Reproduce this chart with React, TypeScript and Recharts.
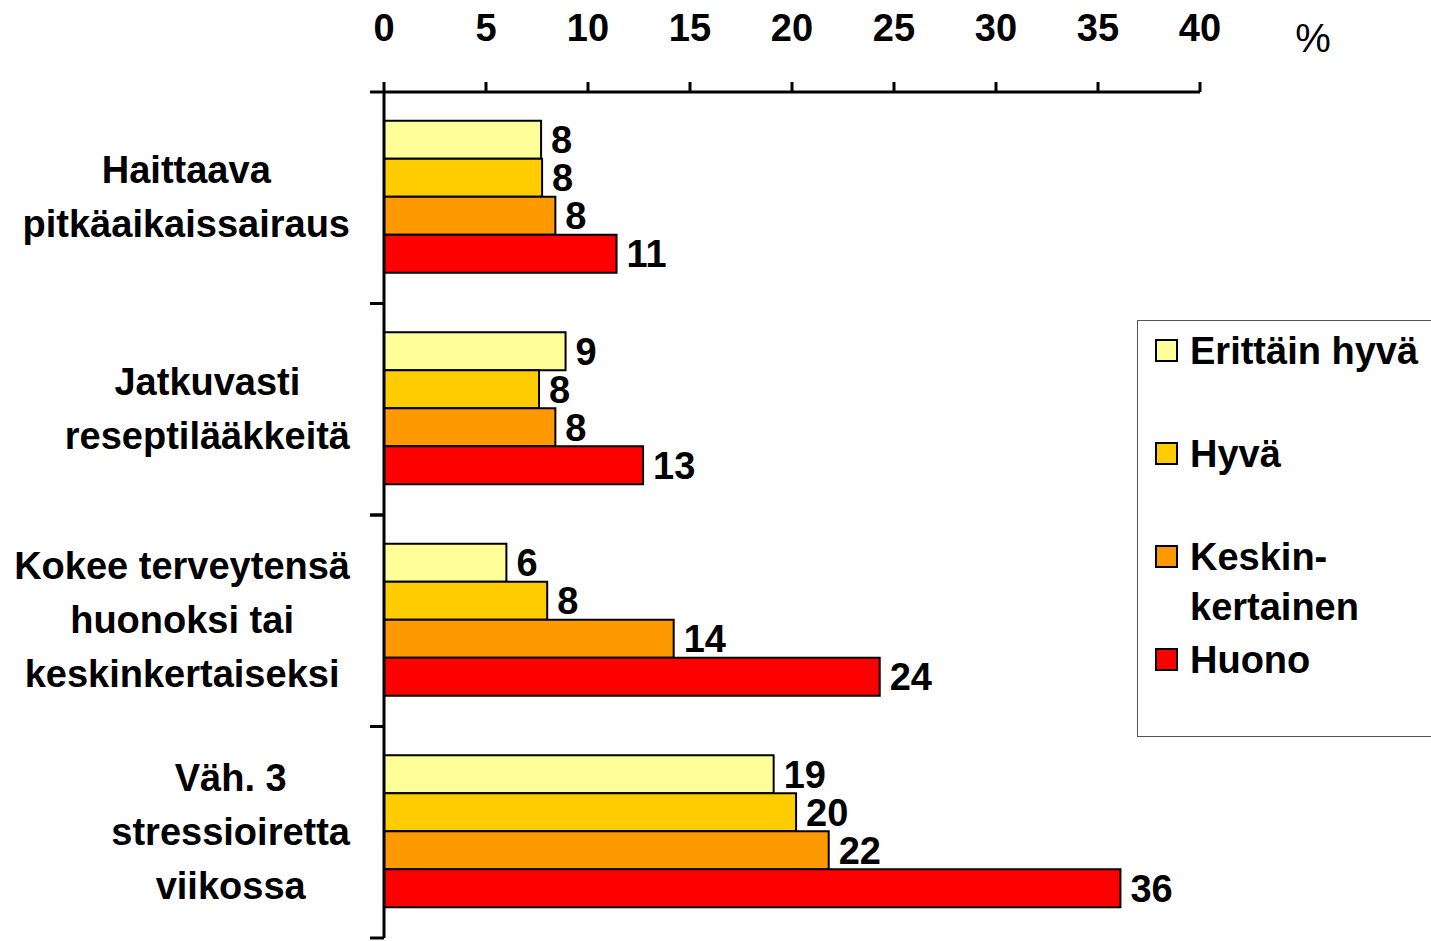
import React from "react";
import { BarChart, Bar, XAxis, YAxis, LabelList } from "recharts";

// categories (two or three lines each, as on the slide)
const categories = [
  "Haittaava pitkäaikaissairaus",
  "Jatkuvasti reseptilääkkeitä",
  "Kokee terveytensä huonoksi tai keskinkertaiseksi",
  "Väh. 3 stressioiretta viikossa",
];
const categoryLines = [
  ["Haittaava", "pitkäaikaissairaus"],
  ["Jatkuvasti", "reseptilääkkeitä"],
  ["Kokee terveytensä", "huonoksi tai", "keskinkertaiseksi"],
  ["Väh. 3", "stressioiretta", "viikossa"],
];

// self-rated health groups
const seriesNames = ["Erittäin hyvä", "Hyvä", "Keskinkertainen", "Huono"];
const legendLines = [["Erittäin hyvä"], ["Hyvä"], ["Keskin-", "kertainen"], ["Huono"]];
const seriesColors = ["#FFFF99", "#FFCC00", "#FF9900", "#FF0000"];

// % values
const erittainHyva = [7.7, 8.9, 6.0, 19.1];
const hyva = [7.75, 7.6, 8.0, 20.2];
const keskinkertainen = [8.4, 8.4, 14.2, 21.8];
const huono = [11.4, 12.7, 24.3, 36.1];

const xTicks = [0, 5, 10, 15, 20, 25, 30, 35, 40];

const W = 1431;
const H = 941;
const AXIS_X = 384;
const FONT = '"Liberation Sans", Arial, sans-serif';

const data = categories.map((name, i) => ({
  name,
  s0: erittainHyva[i],
  s1: hyva[i],
  s2: keskinkertainen[i],
  s3: huono[i],
}));

let measureCtx: CanvasRenderingContext2D | null = null;
function textWidth(s: string) {
  if (!measureCtx) measureCtx = document.createElement("canvas").getContext("2d");
  if (!measureCtx) return s.length * 20;
  measureCtx.font = `bold 38px ${FONT}`;
  return measureCtx.measureText(s).width;
}

function CategoryTick(props: any) {
  const { y, payload } = props;
  const idx = categories.indexOf(payload.value);
  const lines = categoryLines[idx] ?? [payload.value];
  const half = payload.offset || 105.75;
  const maxW = Math.max(...lines.map(textWidth));
  const cx = AXIS_X - 34 - maxW / 2;
  const n = lines.length;
  return (
    <g>
      <line x1={AXIS_X - 14} x2={AXIS_X} y1={y - half} y2={y - half} stroke="#000" strokeWidth={3} />
      <line x1={AXIS_X - 14} x2={AXIS_X} y1={y + half} y2={y + half} stroke="#000" strokeWidth={3} />
      {lines.map((l, i) => (
        <text
          key={l}
          x={cx}
          y={y + (i - (n - 1) / 2) * 54 + 12.5}
          textAnchor="middle"
          fontFamily={FONT}
          fontWeight="bold"
          fontSize={38}
          fill="#000"
        >
          {l}
        </text>
      ))}
    </g>
  );
}

function XTick(props: any) {
  const { x, y, payload } = props;
  return (
    <text x={x} y={y} textAnchor="middle" fontFamily={FONT} fontWeight="bold" fontSize={38} fill="#000">
      {payload.value}
    </text>
  );
}

function PercentLabel(props: any) {
  const vb = props.viewBox || { x: AXIS_X, y: 0, width: 816, height: 92 };
  return (
    <text x={vb.x + vb.width + 113} y={52} textAnchor="middle" fontFamily={FONT} fontSize={40} fill="#000">
      %
    </text>
  );
}

function LegendBox() {
  return (
    <div
      style={{
        position: "absolute",
        left: 1137,
        top: 320,
        width: W - 1137,
        height: 417,
        border: "1px solid #555",
        borderRight: "none",
        boxSizing: "border-box",
        paddingTop: 5,
        fontFamily: FONT,
        fontWeight: "bold",
        fontSize: 38,
        color: "#000",
      }}
    >
      {seriesNames.map((name, i) => (
        <div key={name} style={{ height: 103, position: "relative" }}>
          <div
            style={{
              position: "absolute",
              left: 17,
              top: 13,
              width: 23,
              height: 23,
              boxSizing: "border-box",
              border: "2px solid #000",
              background: seriesColors[i],
            }}
          />
          <div style={{ position: "absolute", left: 52, top: 0, lineHeight: "50px", whiteSpace: "nowrap" }}>
            {legendLines[i].map((l) => (
              <div key={l}>{l}</div>
            ))}
          </div>
        </div>
      ))}
    </div>
  );
}

export default function App() {
  return (
    <div style={{ position: "absolute", left: 0, top: 0, width: W, height: H, background: "#fff", overflow: "hidden" }}>
      <BarChart
        width={W}
        height={H}
        data={data}
        layout="vertical"
        margin={{ top: 0, right: W - 1200, bottom: 3, left: 0 }}
        barGap={0}
        barCategoryGap="13.6%"
      >
        <XAxis
          type="number"
          orientation="top"
          domain={[0, 40]}
          ticks={xTicks}
          height={92}
          tickSize={10}
          tickMargin={41}
          tick={<XTick />}
          axisLine={{ stroke: "#000", strokeWidth: 3 }}
          tickLine={{ stroke: "#000", strokeWidth: 3 }}
          label={(p: any) => <PercentLabel {...p} />}
        />
        <YAxis
          type="category"
          dataKey="name"
          width={AXIS_X}
          tickLine={false}
          axisLine={{ stroke: "#000", strokeWidth: 3 }}
          tick={<CategoryTick />}
          interval={0}
        />
        {seriesNames.map((name, i) => (
          <Bar
            key={name}
            dataKey={`s${i}`}
            name={name}
            fill={seriesColors[i]}
            stroke="#000"
            strokeWidth={2}
            isAnimationActive={false}
          >
            <LabelList
              dataKey={`s${i}`}
              position="right"
              offset={10}
              formatter={(v: any) => Math.round(Number(v))}
              fill="#000"
              fontFamily={FONT}
              fontWeight="bold"
              fontSize={38}
            />
          </Bar>
        ))}
      </BarChart>
      <LegendBox />
    </div>
  );
}
